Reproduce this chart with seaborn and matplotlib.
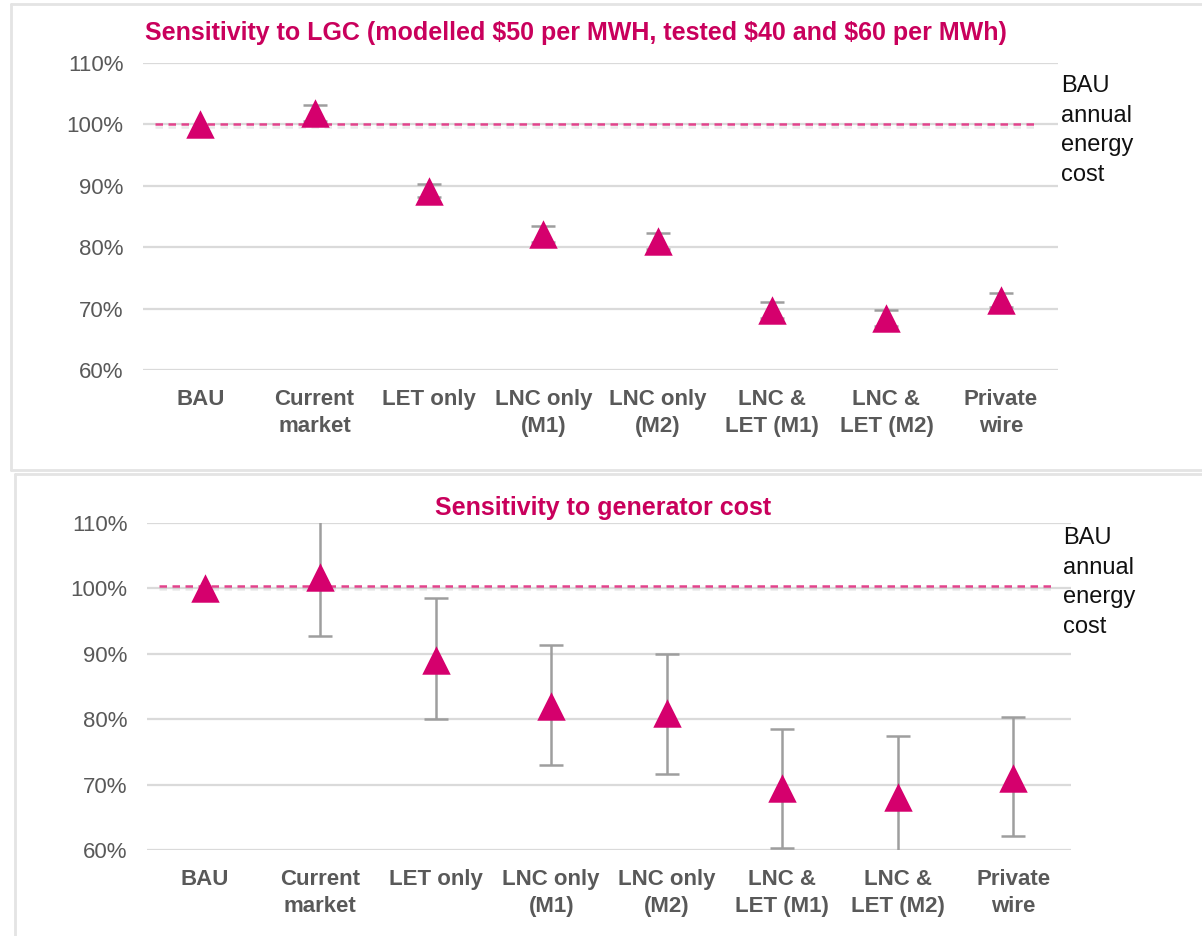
import numpy as np
import pandas as pd
import matplotlib
matplotlib.use("Agg")
import matplotlib.pyplot as plt
import matplotlib.patheffects as pe
from matplotlib.lines import Line2D
import seaborn as sns

# Categories along the x axis
categories = ["BAU", "Current\nmarket", "LET only", "LNC only\n(M1)", "LNC only\n(M2)",
              "LNC &\nLET (M1)", "LNC &\nLET (M2)", "Private\nwire"]

# Top panel: annual energy cost vs BAU (%), LGC sensitivity (+/- error)
lgc_cost = [100.0, 101.8, 89.2, 82.1, 81.0, 69.8, 68.4, 71.4]
lgc_err = [0.0, 1.3, 1.1, 1.3, 1.3, 1.3, 1.3, 1.2]

# Bottom panel: generator cost sensitivity (low / central / high)
gen_cost = [100.0, 101.7, 89.1, 82.0, 80.9, 69.5, 68.1, 71.0]
gen_low = [100.0, 92.7, 80.0, 73.0, 71.6, 60.3, 59.0, 62.1]
gen_high = [100.0, 111.0, 98.5, 91.4, 90.0, 78.5, 77.4, 80.3]

yticks = [60, 70, 80, 90, 100, 110]
bau_level = [100.0, 100.3]

top_title = "Sensitivity to LGC (modelled $50 per MWH, tested $40 and $60 per MWh)"
bottom_title = "Sensitivity to generator cost"
bau_note = "BAU\nannual\nenergy\ncost"

# colours
PINK = "#D5006D"
DASH = "#E2438C"
TITLE = "#C9005C"
GREY_TXT = "#595959"
ERR = "#9E9E9E"
GRID = "#DADADA"
FRAME = "#E4E4E4"

sns.set_style("white")
plt.rcParams["font.family"] = ["Liberation Sans", "DejaVu Sans"]


def draw_panel(ax, values, lower, upper, line_y):
    df = pd.DataFrame({"option": categories, "cost": values})
    x = np.arange(len(categories))
    vals = np.array(values)
    lo = vals - np.array(lower)
    hi = np.array(upper) - vals
    keep = (lo + hi) > 0
    ax.errorbar(x[keep], vals[keep], yerr=[lo[keep], hi[keep]], fmt="none",
                ecolor=ERR, elinewidth=1.8, capsize=8.5, capthick=1.8, zorder=3)
    sns.scatterplot(data=df, x="option", y="cost", marker="^", s=420, color=PINK,
                    linewidth=0, ax=ax, zorder=5)
    ax.axhline(line_y, xmin=0.013, xmax=0.978, color=DASH, lw=1.8,
               linestyle=(0, (3, 2.2)), zorder=2,
               path_effects=[pe.SimpleLineShadow(offset=(0, -1.8), shadow_color="#a0a0a0", alpha=0.22),
                             pe.Normal()])

    ax.set_xlim(-0.5, len(categories) - 0.5)
    ax.set_ylim(yticks[0], yticks[-1])
    ax.set_yticks(yticks)
    ax.set_yticklabels([f"{t}%" for t in yticks])
    ax.set_xticks(x)
    ax.set_xticklabels(categories, fontweight="bold", linespacing=1.35)
    ax.set_xlabel("")
    ax.set_ylabel("")
    ax.yaxis.grid(True, color=GRID, lw=1.6)
    ax.set_axisbelow(True)
    for s in ax.spines.values():
        s.set_visible(False)
    ax.tick_params(axis="both", length=0, labelsize=16, colors=GREY_TXT)
    ax.tick_params(axis="y", pad=14)
    ax.tick_params(axis="x", pad=14)


fig = plt.figure(figsize=(12.02, 9.36), dpi=100)

ax_top = fig.add_axes([143 / 1202, 1 - 370 / 936, 915 / 1202, 307 / 936])
ax_bot = fig.add_axes([147 / 1202, 1 - 850 / 936, 924 / 1202, 327 / 936])

draw_panel(ax_top, lgc_cost,
           [v - e for v, e in zip(lgc_cost, lgc_err)],
           [v + e for v, e in zip(lgc_cost, lgc_err)], bau_level[0])
draw_panel(ax_bot, gen_cost, gen_low, gen_high, bau_level[1])

# titles
fig.text(145 / 1202, 1 - 33 / 936, top_title, ha="left", va="center",
         fontsize=18, fontweight="bold", color=TITLE)
fig.text(603 / 1202, 1 - 508 / 936, bottom_title, ha="center", va="center",
         fontsize=18, fontweight="bold", color=TITLE)

# BAU annotations
fig.text(1061 / 1202, 1 - 75 / 936, bau_note, ha="left", va="top",
         fontsize=17, color="#111111", linespacing=1.45)
fig.text(1063 / 1202, 1 - 527 / 936, bau_note, ha="left", va="top",
         fontsize=17, color="#111111", linespacing=1.45)

# panel frames
W, H = 1202, 936
frame_lines = [
    ([11, 1202], [4, 4]), ([11, 11], [4, 470]), ([11, 1202], [470, 470]),
    ([15, 1202], [474, 474]), ([15, 15], [474, 936]),
]
for xs, ys in frame_lines:
    fig.add_artist(Line2D([v / W for v in xs], [1 - v / H for v in ys],
                          color=FRAME, lw=2, transform=fig.transFigure))

fig.savefig("out.png", dpi=100, facecolor="white")
